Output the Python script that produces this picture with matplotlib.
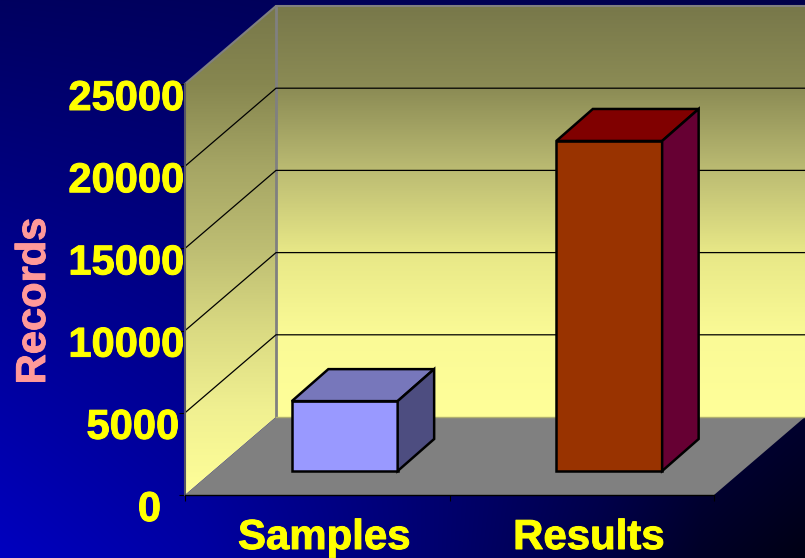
import matplotlib
matplotlib.use("Agg")
import matplotlib.pyplot as plt
import matplotlib.patheffects as pe
import numpy as np
from matplotlib.colors import LinearSegmentedColormap
from matplotlib.lines import Line2D
from matplotlib.patches import Polygon
from matplotlib.transforms import Affine2D, IdentityTransform

categories = ["Samples", "Results"]
records = [4250, 20075]
y_ticks = [0, 5000, 10000, 15000, 20000, 25000]

W, H = 805, 558
YELLOW = "#ffff00"

plt.rcParams["font.family"] = ["Liberation Sans", "DejaVu Sans"]
fig = plt.figure(figsize=(W / 100, H / 100), dpi=100)

# full size axes for the gradients, in pixels
bg = fig.add_axes([0, 0, 1, 1], zorder=0)
bg.set_xlim(0, W)
bg.set_ylim(H, 0)
bg.axis("off")

# front plane of the 3d box: x in category slots, y in records
ax = fig.add_axes([185 / W, (H - 495) / H, 529 / W, 411 / H], zorder=1)
ax.set_xlim(0, 2)
ax.set_ylim(0, 25000)
ax.patch.set_alpha(0)
for s in ["top", "right"]:
    ax.spines[s].set_visible(False)
ax.spines["left"].set_color("#555566")
ax.spines["left"].set_linewidth(1.5)
ax.spines["bottom"].set_color("black")
ax.spines["bottom"].set_linewidth(1)
ax.set_xticks([0, 1, 2])
ax.set_xticklabels([])
ax.set_yticks(y_ticks)
ax.set_yticklabels([])
ax.tick_params(axis="both", length=4, width=0.8, color="black")

front = ax.transData
back = ax.transData + Affine2D().translate(91, 78)
bar_plane = ax.transData + Affine2D().translate(27.5, 24)
bar_depth = Affine2D().translate(36.5, 32)
ident = IdentityTransform()

# background, blue getting brighter downwards and fading to black on the right
xx, yy = np.meshgrid(np.arange(W), np.arange(H))
fade = np.interp(xx, [0, 200, 400, 600, 700, 805], [1, 0.85, 0.62, 0.36, 0.2, 0.1])
fade = 1 - (1 - fade) * (0.25 + 0.75 * yy / H)
blue = (96 + 96 * yy / H) * fade / 255
rgb = np.dstack([np.zeros_like(blue), np.zeros_like(blue), blue])
bg.imshow(rgb, extent=[0, W, H, 0], aspect="auto", zorder=0)

back_cmap = LinearSegmentedColormap.from_list(
    "back", [(0, "#78784a"), (0.2, "#8c8c55"), (0.4, "#bcbc73"), (0.6, "#e8e887"), (0.8, "#fafa96"), (1, "#ffff99")])
left_cmap = LinearSegmentedColormap.from_list(
    "left", [(0, "#78784a"), (0.158, "#878750"), (0.324, "#a5a564"), (0.498, "#bebe73"),
             (0.662, "#dada82"), (0.826, "#f0f091"), (1, "#ffff99")])


def wall(points, y0, y1, cmap):
    # vertical gradient clipped to the wall outline
    grad = np.linspace(0, 1, 256).reshape(-1, 1)
    im = bg.imshow(grad, extent=[0, W, y1, y0], aspect="auto", cmap=cmap,
                   vmin=0, vmax=1, zorder=1)
    im.set_clip_path(Polygon(points, transform=ident))


bg.set_xlim(0, W)
bg.set_ylim(H, 0)

back_pts = [back.transform(p) for p in [(0, 0), (2, 0), (2, 25000), (0, 25000)]]
left_pts = [front.transform((0, 0)), back.transform((0, 0)),
            back.transform((0, 25000)), front.transform((0, 25000))]
floor_pts = [front.transform((0, 0)), front.transform((2, 0)),
             back.transform((2, 0)), back.transform((0, 0))]

wall(back_pts, 7, 417, back_cmap)
wall(left_pts, 7, 495, left_cmap)
ax.add_patch(Polygon(floor_pts, transform=ident, fc="#808080", ec="none", clip_on=False, zorder=1))

# wall outlines
edge = [front.transform((0, 25000)), back.transform((0, 25000)), back.transform((2, 25000))]
ax.add_line(Line2D(*zip(*edge), transform=ident, color="#808080", lw=1.5, clip_on=False, zorder=1))
edge = [back.transform((0, 0)), back.transform((0, 25000))]
ax.add_line(Line2D(*zip(*edge), transform=ident, color="#808080", lw=2, clip_on=False, zorder=1))
edge = [back.transform((0, 0)), back.transform((2, 0))]
ax.add_line(Line2D(*zip(*edge), transform=ident, color="#b0b070", lw=1, clip_on=False, zorder=1))

# gridlines run along the side wall then across the back
for v in y_ticks[1:-1]:
    pts = [front.transform((0, v)), back.transform((0, v)), back.transform((2, v))]
    ax.add_line(Line2D(*zip(*pts), transform=ident, color="black", lw=0.9, clip_on=False, zorder=1.5))

bar_colors = [("#9999ff", "#7777bb", "#4d4d80"), ("#993300", "#800000", "#660033")]
bar_w = 0.4
for i, (v, cols) in enumerate(zip(records, bar_colors)):
    x0, x1 = i + 0.5 - bar_w / 2, i + 0.5 + bar_w / 2
    fl, fr = bar_plane.transform((x0, 0)), bar_plane.transform((x1, 0))
    tl, tr = bar_plane.transform((x0, v)), bar_plane.transform((x1, v))
    br_b, tr_b, tl_b = bar_depth.transform(fr), bar_depth.transform(tr), bar_depth.transform(tl)
    faces = [([fl, fr, tr, tl], cols[0]), ([tl, tr, tr_b, tl_b], cols[1]), ([fr, br_b, tr_b, tr], cols[2])]
    for pts, c in faces:
        ax.add_patch(Polygon(pts, transform=ident, fc=c, ec="black", lw=1.8,
                             joinstyle="miter", clip_on=False, zorder=3))

# the shorter tick labels do not sit flush against the axis
label_gap = [24, 6, 1, 1, 1, 1]
heavy = [pe.withStroke(linewidth=0.7, foreground=YELLOW)]
for v, gap in zip(y_ticks, label_gap):
    ax.annotate(str(v), (0, v), xytext=(-gap, -15), textcoords="offset pixels", ha="right", va="center",
                color=YELLOW, fontsize=30, fontweight="bold", annotation_clip=False, path_effects=heavy)
for i, name in enumerate(categories):
    ax.annotate(name, (i + 0.5, 0), xytext=(7, -43), textcoords="offset pixels", ha="center", va="center",
                color=YELLOW, fontsize=30.2, fontweight="bold", annotation_clip=False, path_effects=heavy)

fig.text(34 / W, 1 - 301 / H, "Records", rotation=90, ha="center", va="center",
         color="#ff9999", fontsize=30, fontweight="bold",
         path_effects=[pe.withStroke(linewidth=0.7, foreground="#ff9999")])

fig.savefig("out.png", dpi=100)
